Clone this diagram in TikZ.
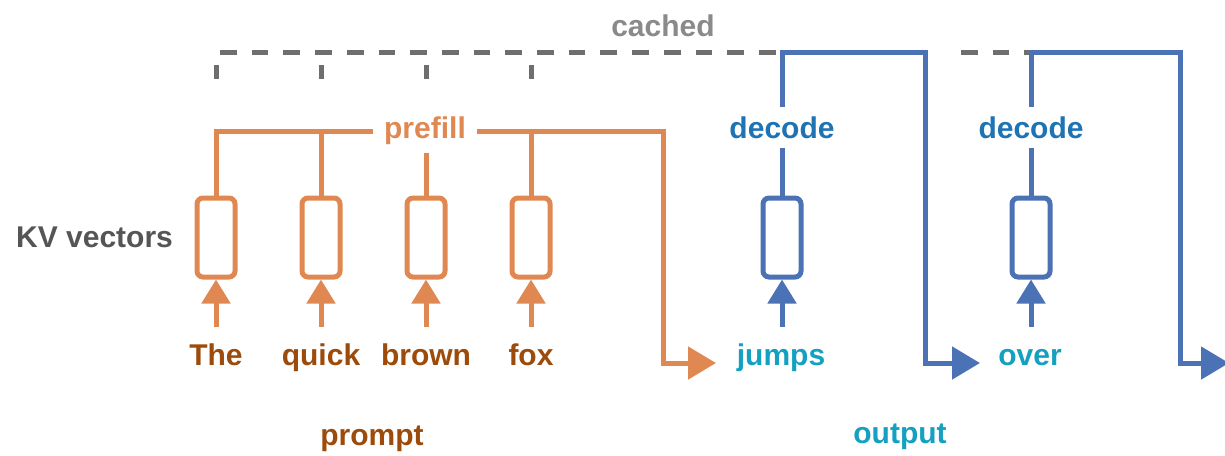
\documentclass[tikz,border=0pt]{standalone}
\usepackage{fontspec}
\setmainfont{Liberation Sans}
\usetikzlibrary{arrows.meta}
\definecolor{orl}{RGB}{224,136,82}
\definecolor{brn}{RGB}{156,75,10}
\definecolor{bll}{RGB}{74,114,180}
\definecolor{dcb}{RGB}{30,115,180}
\definecolor{tea}{RGB}{20,160,192}
\definecolor{gdl}{RGB}{110,110,110}
\definecolor{cgt}{RGB}{138,138,138}
\definecolor{kvt}{RGB}{85,85,85}
\begin{document}
\begin{tikzpicture}[x=1pt,y=-1pt,
  lbl/.style={font=\bfseries\fontsize{30}{36}\selectfont, inner sep=0pt},
  word/.style={lbl, inner xsep=0pt, inner ysep=17pt, text height=21pt, text depth=7pt, anchor=base},
  vbox/.style={draw, rounded corners=6pt, minimum width=38pt, minimum height=79pt, line width=5pt, inner sep=0pt},
  ol/.style={draw=orl, line width=5pt},
  bl/.style={draw=bll, line width=5pt},
  gdash/.style={draw=gdl, line width=5pt, dash pattern=on 16.7pt off 15pt},
  gtick/.style={draw=gdl, line width=5pt},
  sarr/.style={-{Triangle[length=24pt,width=28pt]}},
  barr/.style={-{Triangle[length=28pt,width=32pt]}}
]
\useasboundingbox (0,0) rectangle (1225,455);

% boxes
\node[vbox, draw=orl] (b1) at (216,237.5) {};
\node[vbox, draw=orl] (b2) at (321,237.5) {};
\node[vbox, draw=orl] (b3) at (426,237.5) {};
\node[vbox, draw=orl] (b4) at (531,237.5) {};
\node[vbox, draw=bll] (b5) at (782,237.5) {};
\node[vbox, draw=bll] (b6) at (1031,237.5) {};

% words
\node[word, text=brn] (w1) at (216,365) {The};
\node[word, text=brn] (w2) at (321,365) {quick};
\node[word, text=brn] (w3) at (426,365) {brown};
\node[word, text=brn] (w4) at (531,365) {fox};
\node[word, text=tea] (w5) at (781,365) {jumps};
\node[word, text=tea] (w6) at (1030,365) {over};

% labels
\node[lbl, text=brn, anchor=base] (prompt) at (372,445) {prompt};
\node[lbl, text=tea, anchor=base] (output) at (900,443) {output};
\node[lbl, text=kvt, anchor=base west] (kv) at (16,247) {KV vectors};
\node[lbl, text=cgt, anchor=base] (cached) at (663,36) {cached};
\node[lbl, text=orl, anchor=base, inner xsep=11pt, inner ysep=8pt, text height=21pt, text depth=7pt] (pf) at (425,138) {prefill};
\node[lbl, text=dcb, anchor=base, inner ysep=10pt, text height=21pt, text depth=0pt] (dc1) at (782,138) {decode};
\node[lbl, text=dcb, anchor=base, inner ysep=10pt, text height=21pt, text depth=0pt] (dc2) at (1031,138) {decode};

% coordinates
\coordinate (g1) at (220,52);
\coordinate (g2) at (961,52);
\coordinate (k5) at (663,131);
\coordinate (t5) at (716,363);
\coordinate (k6) at (925,52);
\coordinate (t6) at (980,363);
\coordinate (k7) at (1180,52);
\coordinate (t7) at (1229,363);

% cached dashed line and ticks
\draw[gdash] (g1) -- (dc1.north |- g1);
\draw[gdash] (g2) -- (dc2.north |- g2);
\foreach \b in {b1,b2,b3,b4}
  \draw[gtick] ([yshift=117pt]\b.north) -- ([yshift=131pt]\b.north);

% prefill lines
\draw[ol] (b1.north) |- (pf.west);
\draw[ol] (b2.north) -- (b2.north |- pf.west);
\draw[ol] (b3.north) -- (b3.north |- pf.south);
\draw[ol] (b4.north) -- (b4.north |- pf.east);
\draw[ol, barr] (pf.east) -- (k5) |- (t5);

% decode lines
\draw[bl] (b5.north) -- (dc1.south);
\draw[bl] (b6.north) -- (dc2.south);
\draw[bl, barr] (dc1.north) |- (k6) |- (t6);
\draw[bl, barr] (dc2.north) |- (k7) |- (t7);

% input arrows
\foreach \i in {1,2,3,4}
  \draw[ol, sarr] (w\i.north -| b\i.south) -- (b\i.south);
\draw[bl, sarr] (w5.north -| b5.south) -- (b5.south);
\draw[bl, sarr] (w6.north -| b6.south) -- (b6.south);
\end{tikzpicture}
\end{document}
